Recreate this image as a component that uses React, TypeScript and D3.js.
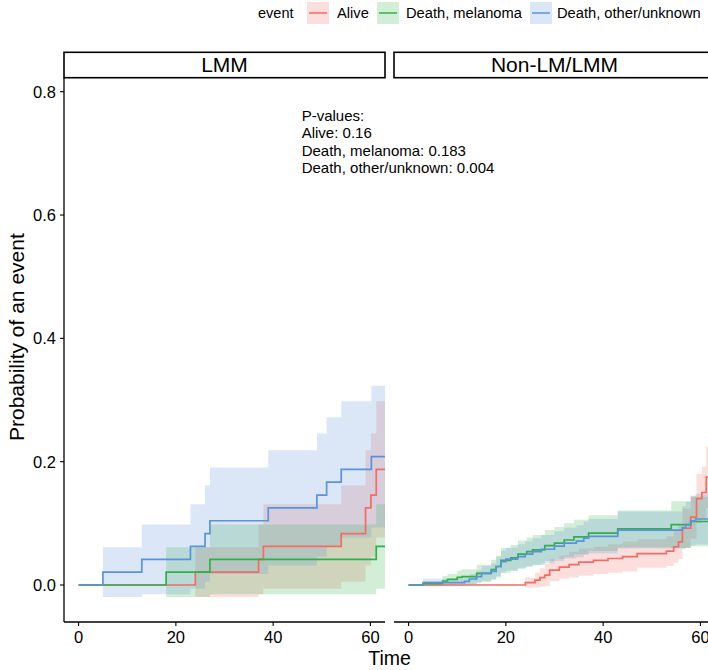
import React from 'react';
import * as d3 from 'd3';

// legend / facets
const eventNames = ['Alive', 'Death, melanoma', 'Death, other/unknown'];
const eventColors = ['#F26C64', '#30B04A', '#5B93D8'];
const panelNames = ['LMM', 'Non-LM/LMM'];
const xTicks = [0, 20, 40, 60];
const yTicks = [0, 0.2, 0.4, 0.6, 0.8];
const pValueLabels = ['P-values:', 'Alive: 0.16', 'Death, melanoma: 0.183', 'Death, other/unknown: 0.004'];
const followUpEnd = 66;

// LMM panel
const lmmAliveTime = [0, 24, 37, 38, 54, 59, 60.1, 61.2];
const lmmAliveEst = [0, 0.0208, 0.0417, 0.0625, 0.0833, 0.125, 0.1458, 0.1875];
const lmmAliveLow = [0, -0.0196, -0.0148, -0.006, 0.0051, 0.0315, 0.0459, 0.0771];
const lmmAliveHigh = [0, 0.0612, 0.0982, 0.131, 0.1615, 0.2185, 0.2457, 0.2979];

const lmmMelTime = [0, 18, 27, 61.2];
const lmmMelEst = [0, 0.0208, 0.0417, 0.0625];
const lmmMelLow = [0, -0.0196, -0.0148, -0.006];
const lmmMelHigh = [0, 0.0612, 0.0982, 0.131];

const lmmOtherTime = [0, 5, 13, 23, 26, 27, 39, 49, 51, 54, 60.2];
const lmmOtherEst = [0, 0.0208, 0.0417, 0.0625, 0.0833, 0.1042, 0.125, 0.1458, 0.1667, 0.1875, 0.2083];
const lmmOtherLow = [0, -0.0196, -0.0148, -0.006, 0.0051, 0.0177, 0.0315, 0.0459, 0.0612, 0.0771, 0.0934];
const lmmOtherHigh = [0, 0.0612, 0.0982, 0.131, 0.1615, 0.1906, 0.2185, 0.2457, 0.2721, 0.2979, 0.3232];

// Non-LM/LMM panel
const nonAliveTime = [0, 24, 26, 27, 28, 29, 31, 33, 35, 38, 41, 44, 47, 53, 54.5, 55.5, 56.3, 58, 59.2, 60.3, 61.2];
const nonAliveEst = [0, 0.004, 0.008, 0.012, 0.016, 0.024, 0.029, 0.033, 0.037, 0.04, 0.043, 0.046, 0.051, 0.055, 0.062, 0.07, 0.092, 0.11, 0.14, 0.15, 0.175];
const nonAliveLow = [0, -0.004, -0.004, -0.003, -0.002, 0.006, 0.01, 0.012, 0.015, 0.018, 0.02, 0.022, 0.028, 0.031, 0.036, 0.042, 0.06, 0.075, 0.1, 0.108, 0.125];
const nonAliveHigh = [0, 0.012, 0.02, 0.027, 0.034, 0.042, 0.048, 0.054, 0.059, 0.062, 0.066, 0.07, 0.074, 0.079, 0.088, 0.098, 0.124, 0.145, 0.18, 0.192, 0.225];

const nonMelTime = [0, 3, 7, 8, 10, 11, 14, 17, 18, 19, 21, 22.5, 24.3, 25.5, 28, 30, 32, 34, 37, 43, 54, 58];
const nonMelEst = [0, 0.002, 0.0065, 0.009, 0.0125, 0.0135, 0.019, 0.025, 0.03, 0.04, 0.044, 0.05, 0.054, 0.057, 0.064, 0.068, 0.073, 0.078, 0.084, 0.091, 0.098, 0.103];
const nonMelLow = [0, -0.002, -0.0015, 0, 0.0015, 0.0015, 0.005, 0.009, 0.012, 0.02, 0.023, 0.028, 0.031, 0.033, 0.039, 0.042, 0.046, 0.05, 0.055, 0.061, 0.06, 0.063];
const nonMelHigh = [0, 0.006, 0.0145, 0.018, 0.0235, 0.0255, 0.033, 0.041, 0.048, 0.06, 0.065, 0.072, 0.077, 0.081, 0.089, 0.094, 0.1, 0.106, 0.113, 0.121, 0.136, 0.143];

const nonOtherTime = [0, 3, 11.5, 12.5, 14, 15, 17, 18, 19, 20, 22.4, 24, 25.5, 27.3, 30, 32, 34.5, 36, 37, 43, 56.3, 57, 58, 59];
const nonOtherEst = [0, 0.004, 0.006, 0.0097, 0.0135, 0.019, 0.022, 0.03, 0.038, 0.042, 0.046, 0.05, 0.054, 0.058, 0.063, 0.068, 0.071, 0.076, 0.079, 0.089, 0.093, 0.098, 0.104, 0.107];
const nonOtherLow = [0, -0.002, -0.001, 0.001, 0.003, 0.007, 0.009, 0.014, 0.02, 0.023, 0.026, 0.029, 0.032, 0.035, 0.039, 0.043, 0.045, 0.049, 0.051, 0.059, 0.058, 0.061, 0.064, 0.066];
const nonOtherHigh = [0, 0.01, 0.013, 0.018, 0.024, 0.031, 0.035, 0.046, 0.056, 0.061, 0.066, 0.071, 0.076, 0.081, 0.087, 0.093, 0.097, 0.103, 0.107, 0.119, 0.128, 0.135, 0.144, 0.148];

type Pt = { t: number; est: number; lo: number; hi: number };

const toCurve = (t: number[], est: number[], lo: number[], hi: number[]): Pt[] => {
  const pts = t.map((d, i) => ({ t: d, est: est[i], lo: lo[i], hi: hi[i] }));
  const last = pts[pts.length - 1];
  pts.push({ ...last, t: followUpEnd });
  return pts;
};

const panelCurves: Pt[][][] = [
  [
    toCurve(lmmAliveTime, lmmAliveEst, lmmAliveLow, lmmAliveHigh),
    toCurve(lmmMelTime, lmmMelEst, lmmMelLow, lmmMelHigh),
    toCurve(lmmOtherTime, lmmOtherEst, lmmOtherLow, lmmOtherHigh),
  ],
  [
    toCurve(nonAliveTime, nonAliveEst, nonAliveLow, nonAliveHigh),
    toCurve(nonMelTime, nonMelEst, nonMelLow, nonMelHigh),
    toCurve(nonOtherTime, nonOtherEst, nonOtherLow, nonOtherHigh),
  ],
];

const W = 708;
const H = 670;
const panelLefts = [64, 394];
const panelW = 321;
const panelTop = 77.7;
const panelH = 544.3;
const stripH = 25.4;
const font = 'Liberation Sans, Arial, sans-serif';

const x = d3.scaleLinear().domain([-3, 63]).range([0, panelW]);
const y = d3.scaleLinear().domain([-0.06, 0.8227]).range([panelH, 0]);

const band = d3.area<Pt>().x(d => x(d.t)).y0(d => y(d.lo)).y1(d => y(d.hi)).curve(d3.curveStepAfter);
const step = d3.line<Pt>().x(d => x(d.t)).y(d => y(d.est)).curve(d3.curveStepAfter);

const App = () => {
  return (
    <svg width={W} height={H} style={{ display: 'block', position: 'absolute', left: 0, top: 0 }} fontFamily={font}>
      <rect width={W} height={H} fill="#fff" />
      <defs>
        <clipPath id="panelClip">
          <rect x={0} y={0} width={panelW} height={panelH} />
        </clipPath>
      </defs>

      {/* legend */}
      <text x={258} y={18.3} fontSize={14.5}>event</text>
      {eventNames.map((name, i) => {
        const kx = [307, 377, 530][i];
        const lx = [337, 406, 557][i];
        return (
          <g key={name}>
            <rect x={kx} y={2} width={22} height={22} fill={eventColors[i]} fillOpacity={0.22} />
            <line x1={kx + 2} x2={kx + 20} y1={13} y2={13} stroke={eventColors[i]} strokeWidth={1.5} />
            <text x={lx} y={18.3} fontSize={14.7}>{name}</text>
          </g>
        );
      })}

      {panelNames.map((name, p) => (
        <g key={name} transform={`translate(${panelLefts[p]},${panelTop})`}>
          {/* strip */}
          <rect x={0} y={-stripH} width={panelW} height={stripH} fill="#fff" stroke="#000" strokeWidth={1.6} />
          <text x={panelW / 2} y={-5.4} fontSize={21} textAnchor="middle">{name}</text>

          <g clipPath="url(#panelClip)">
            {panelCurves[p].map((c, i) => (
              <path key={'b' + i} d={band(c) || ''} fill={eventColors[i]} fillOpacity={0.22} stroke="none" />
            ))}
            {panelCurves[p].map((c, i) => (
              <path key={'l' + i} d={step(c) || ''} fill="none" stroke={eventColors[i]} strokeWidth={1.7} />
            ))}
          </g>

          {/* x axis */}
          <line x1={0} x2={panelW} y1={panelH} y2={panelH} stroke="#000" strokeWidth={1.3} />
          {xTicks.map(t => (
            <g key={t} transform={`translate(${x(t)},${panelH})`}>
              <line y2={4} stroke="#000" strokeWidth={1.1} />
              <text y={20.7} fontSize={16.5} textAnchor="middle">{t}</text>
            </g>
          ))}

          {p === 0 && (
            <g>
              <line x1={0} x2={0} y1={0} y2={panelH} stroke="#000" strokeWidth={1.3} />
              {yTicks.map(v => (
                <g key={v} transform={`translate(0,${y(v)})`}>
                  <line x2={-4} stroke="#000" strokeWidth={1.1} />
                  <text x={-8} dy="0.36em" fontSize={16.5} textAnchor="end">{d3.format('.1f')(v)}</text>
                </g>
              ))}
              {pValueLabels.map((s, i) => (
                <text key={s} x={237.7} y={43 + i * 17.5} fontSize={15}>{s}</text>
              ))}
            </g>
          )}
        </g>
      ))}

      <text x={389.5} y={665} fontSize={19.5} textAnchor="middle">Time</text>
      <text transform={`translate(24,${panelTop - stripH + (panelH + stripH) / 2}) rotate(-90)`} fontSize={21} textAnchor="middle">
        Probability of an event
      </text>
    </svg>
  );
};

export default App;
